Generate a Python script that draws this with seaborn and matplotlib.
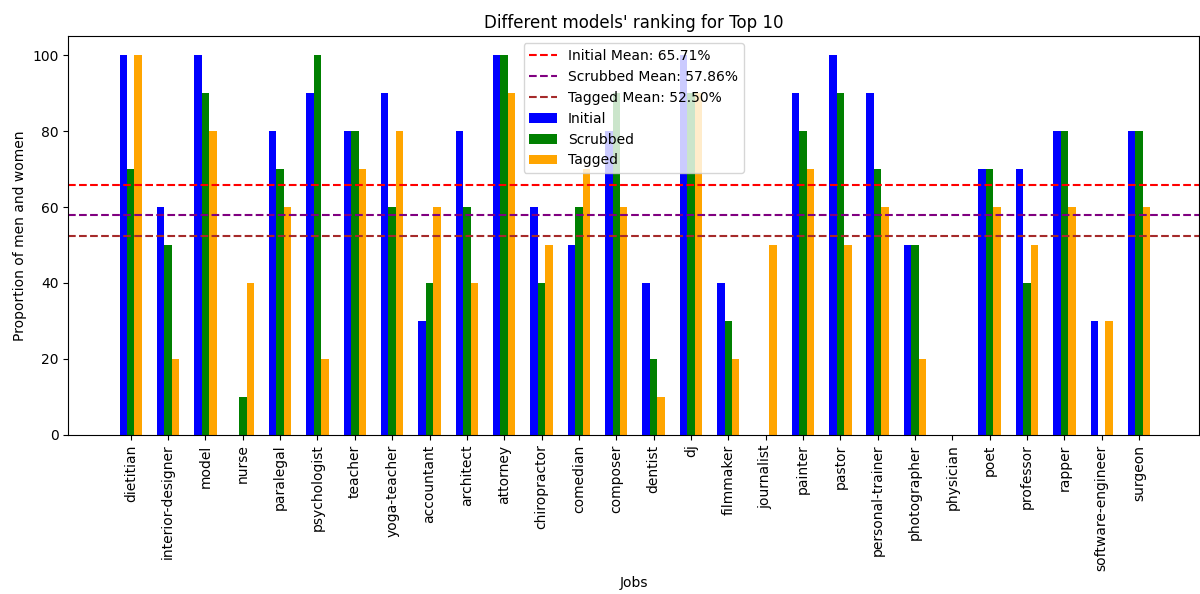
import matplotlib
matplotlib.use("Agg")
import matplotlib.pyplot as plt
from matplotlib.lines import Line2D
from matplotlib.patches import Patch
import numpy as np
import pandas as pd
import seaborn as sns

jobs = ["dietitian", "interior-designer", "model", "nurse", "paralegal", "psychologist",
        "teacher", "yoga-teacher", "accountant", "architect", "attorney", "chiropractor",
        "comedian", "composer", "dentist", "dj", "filmmaker", "journalist", "painter",
        "pastor", "personal-trainer", "photographer", "physician", "poet", "professor",
        "rapper", "software-engineer", "surgeon"]

initial = [100, 60, 100, 0, 80, 90, 80, 90, 30, 80, 100, 60, 50, 80, 40, 100, 40, 0,
           90, 100, 90, 50, 0, 70, 70, 80, 30, 80]
scrubbed = [70, 50, 90, 10, 70, 100, 80, 60, 40, 60, 100, 40, 60, 90, 20, 90, 30, 0,
            80, 90, 70, 50, 0, 70, 40, 80, 0, 80]
tagged = [100, 20, 80, 40, 60, 20, 70, 80, 60, 40, 90, 50, 70, 60, 10, 90, 20, 50,
          70, 50, 60, 20, 0, 60, 50, 60, 30, 60]

models = ["Initial", "Scrubbed", "Tagged"]
colors = ["blue", "green", "orange"]
mean_colors = ["red", "purple", "brown"]

df = pd.DataFrame({
    "job": jobs * 3,
    "model": np.repeat(models, len(jobs)),
    "value": initial + scrubbed + tagged,
})

fig, ax = plt.subplots(figsize=(12, 5.94), dpi=100)
fig.subplots_adjust(left=0.057, right=0.999, top=0.939, bottom=0.268)

sns.barplot(data=df, x="job", y="value", hue="model", hue_order=models,
            palette=colors, saturation=1, width=0.6, legend=False, ax=ax,
            errorbar=None)

handles = []
for name, series, c in zip(models, [initial, scrubbed, tagged], mean_colors):
    m = np.mean(series)
    ax.axhline(m, color=c, linestyle="--")
    handles.append(Line2D([0], [0], color=c, linestyle="--",
                          label=f"{name} Mean: {m:.2f}%"))
for name, c in zip(models, colors):
    handles.append(Patch(facecolor=c, label=name))

ax.legend(handles=handles, loc="upper center")
ax.set_xlim(-1.67, 28.6)
ax.set_ylim(0, 105)
ax.set_title("Different models' ranking for Top 10")
ax.set_xlabel("Jobs")
ax.set_ylabel("Proportion of men and women")
ax.tick_params(axis="x", labelrotation=90)

fig.savefig("out.png", dpi=100)
